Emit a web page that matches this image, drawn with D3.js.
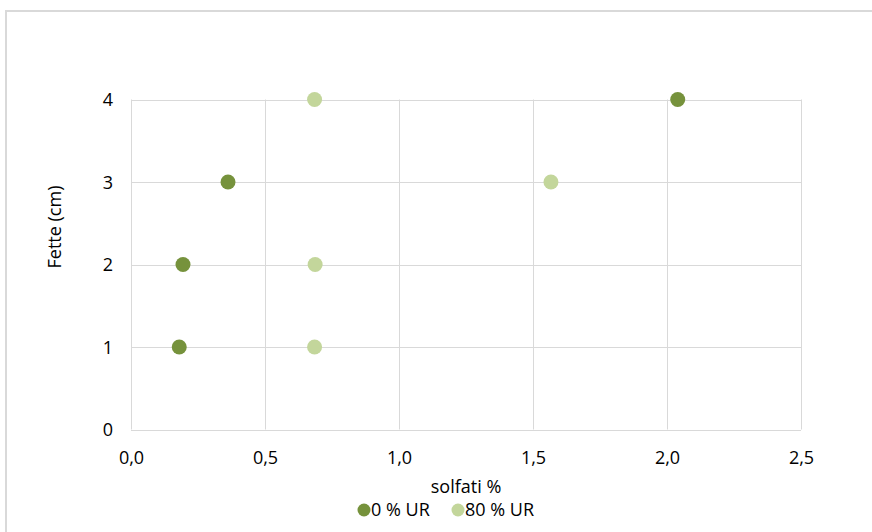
<!DOCTYPE html>
<html><head><meta charset="utf-8">
<script src="https://cdn.jsdelivr.net/npm/d3@7"></script>
<style>
body{margin:0;background:#fff;}
text{font-family:"Open Sans",sans-serif;fill:#000;}
</style></head>
<body><svg id="c" width="872" height="532"></svg>
<script>
const seriesNames = ["0 % UR", "80 % UR"];
const seriesColors = ["#76923c", "#c3d69b"];
const s0x = [0.18, 0.194, 0.362, 2.04];
const s0y = [1, 2, 3, 4];
const s1x = [0.685, 0.687, 1.567, 0.685];
const s1y = [1, 2, 3, 4];
const xTicks = [0, 0.5, 1.0, 1.5, 2.0, 2.5];
const yTicks = [0, 1, 2, 3, 4];
const xTitle = "solfati %";
const yTitle = "Fette (cm)";

const FS = "18px";
const svg = d3.select("#c");
svg.append("rect").attr("x",6).attr("y",11).attr("width",872).attr("height",540)
  .attr("fill","none").attr("stroke","#d9d9d9").attr("stroke-width",2);

const L=131, R=801, T=99.5, B=429.5;
const x = d3.scaleLinear().domain([0,2.5]).range([L,R]);
const y = d3.scaleLinear().domain([0,4]).range([B,T]);

const g = svg.append("g");
g.selectAll("line.vx").data(xTicks).join("line")
  .attr("x1",d=>Math.round(x(d))+0.5).attr("x2",d=>Math.round(x(d))+0.5)
  .attr("y1",T).attr("y2",B).attr("stroke","#d9d9d9").attr("stroke-width",1);
g.selectAll("line.hy").data(yTicks).join("line")
  .attr("y1",d=>Math.round(y(d))+0.5).attr("y2",d=>Math.round(y(d))+0.5)
  .attr("x1",L).attr("x2",R).attr("stroke","#d9d9d9").attr("stroke-width",1);

const fmt = d=>d3.format(".1f")(d).replace(".",",");
const xAxis = d3.axisBottom(x).tickValues(xTicks).tickFormat(fmt).tickSize(0).tickPadding(0);
const ax = svg.append("g").attr("transform",`translate(0,${B})`).call(xAxis);
ax.select(".domain").remove();
ax.selectAll("text").attr("y",28).attr("dy","0.35em").style("font-size",FS).attr("fill","#000");

const yAxis = d3.axisLeft(y).tickValues(yTicks).tickFormat(d3.format("d")).tickSize(0).tickPadding(0);
const ay = svg.append("g").attr("transform",`translate(${L},0)`).call(yAxis);
ay.select(".domain").remove();
ay.selectAll("text").attr("x",-18).attr("dy","0.35em").style("font-size",FS).attr("fill","#000");

svg.append("text").attr("x",466).attr("y",487).attr("dy","0.35em").attr("text-anchor","middle")
  .style("font-size",FS).text(xTitle);
svg.append("text").attr("transform",`translate(55,227) rotate(-90)`)
  .attr("dy","0.35em").attr("text-anchor","middle").style("font-size",FS).text(yTitle);

const series = [
  {xs:s0x, ys:s0y},
  {xs:s1x, ys:s1y}
];
series.forEach((s,i)=>{
  svg.append("g").selectAll("circle").data(s.xs.map((v,j)=>[v,s.ys[j]])).join("circle")
    .attr("cx",d=>x(d[0])).attr("cy",d=>y(d[1])).attr("r",7.5).attr("fill",seriesColors[i]);
});

const leg = svg.append("g");
const legX = [364, 458];
seriesNames.forEach((n,i)=>{
  leg.append("circle").attr("cx",legX[i]).attr("cy",510).attr("r",6.5).attr("fill",seriesColors[i]);
  leg.append("text").attr("x",legX[i]+7).attr("y",510).attr("dy","0.35em")
    .style("font-size",FS).text(n);
});
</script></body></html>
